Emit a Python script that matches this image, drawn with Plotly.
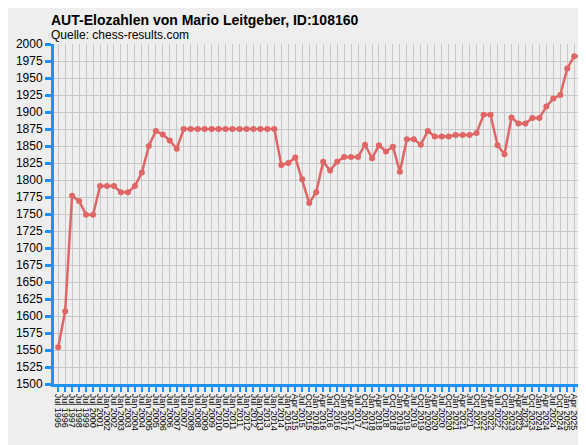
import plotly.graph_objects as go

# rating periods (x categories)
periods = [f"Jul {y}" for y in range(1995, 2002)]
for y in range(2002, 2015):
    periods += [f"Jan {y}", f"Jul {y}"]
periods += ["Jan 2015", "Apr 2015", "Jul 2015", "Oct 2015"]
for y in range(2016, 2025):
    periods += [f"Jan {y}", f"Apr {y}", f"Jul {y}", f"Oct {y}"]
periods += ["Jan 2025", "Apr 2025", "Jul 2025"]

elo = [1554, 1607, 1777, 1769, 1749, 1749, 1791, 1791, 1791, 1782,
       1782, 1791, 1811, 1850, 1872, 1867, 1858, 1846, 1875, 1875,
       1875, 1875, 1875, 1875, 1875, 1875, 1875, 1875, 1875, 1875,
       1875, 1875, 1822, 1825, 1833, 1801, 1766, 1782, 1827, 1814,
       1827, 1834, 1834, 1834, 1852, 1832, 1851, 1842, 1849, 1812,
       1860, 1860, 1852, 1872, 1864, 1864, 1864, 1866, 1866, 1866,
       1869, 1896, 1896, 1851, 1838, 1892, 1883, 1883, 1891, 1891,
       1908, 1920, 1925, 1964, 1982, 1982]

y_ticks = list(range(1500, 2001, 25))

fig = go.Figure(go.Scatter(
    x=periods, y=elo, mode="lines+markers",
    line=dict(color="#e06666", width=2.5),
    marker=dict(color="#e06666", size=6),
    cliponaxis=False,
))

fig.update_layout(
    width=586, height=445,
    margin=dict(l=44, r=8, t=36, b=69),
    paper_bgcolor="#eeeeee", plot_bgcolor="#eeeeee",
    font=dict(family="Liberation Sans, Arial", color="black", size=12),
    showlegend=False,
    annotations=[
        dict(text="<b>AUT-Elozahlen von Mario Leitgeber, ID:108160</b>",
             xref="paper", yref="paper", x=-0.01, y=1.07,
             xanchor="left", yanchor="middle", showarrow=False,
             font=dict(size=14)),
        dict(text="Quelle: chess-results.com", xref="paper", yref="paper",
             x=-0.01, y=1.026, xanchor="left", yanchor="middle",
             showarrow=False, font=dict(size=12)),
    ],
)
fig.update_xaxes(
    type="category", tickangle=90, tickfont=dict(size=9),
    tickmode="array", tickvals=periods, ticktext=periods,
    showgrid=True, gridcolor="#c8c8c8", gridwidth=1,
    showline=True, linecolor="#1e90ff", linewidth=3,
    ticks="outside", tickcolor="#1e90ff", tickwidth=2, ticklen=5,
    range=[-0.6, len(periods) - 0.6],
)
fig.update_yaxes(
    range=[1500, 2000], tickvals=y_ticks,
    showgrid=True, gridcolor="#c8c8c8", gridwidth=1,
    showline=True, linecolor="#1e90ff", linewidth=3,
    ticks="outside", tickcolor="#1e90ff", tickwidth=3, ticklen=6,
    zeroline=False,
)

fig.write_html("out.html")
